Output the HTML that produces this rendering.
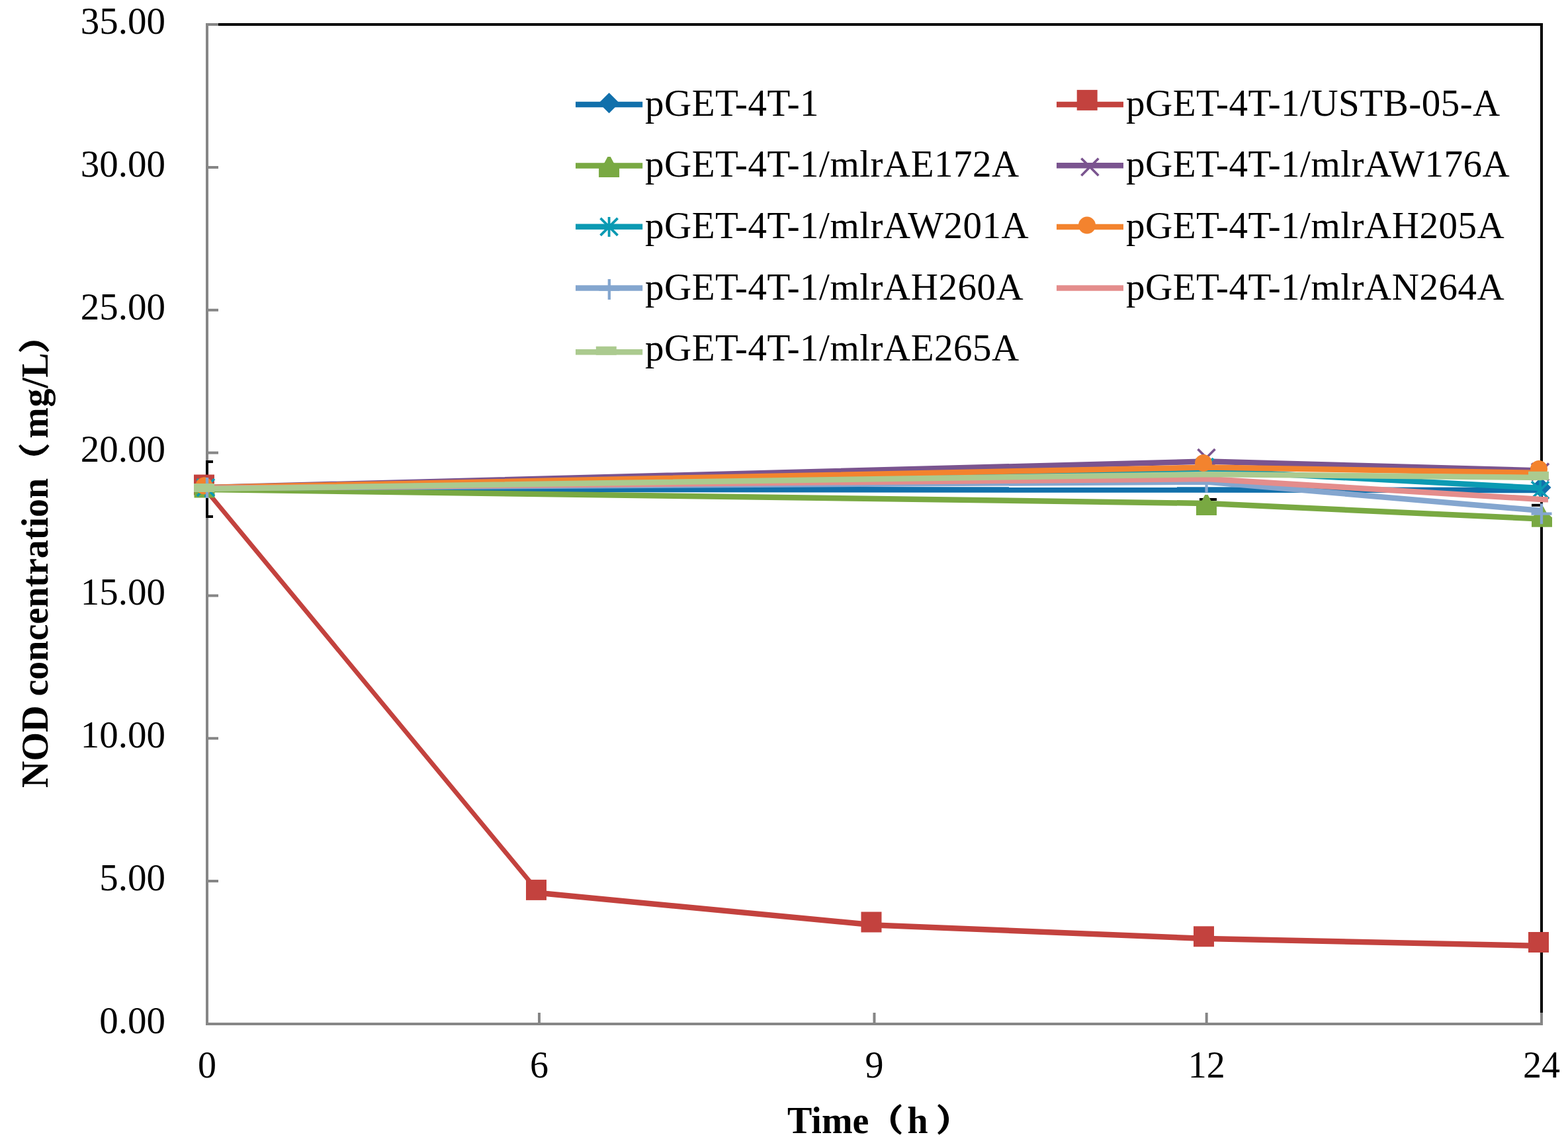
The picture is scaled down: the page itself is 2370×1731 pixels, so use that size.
<!DOCTYPE html><html><head><meta charset="utf-8"><title>NOD concentration</title>
<style>html,body{margin:0;padding:0;background:#fff;}body{width:2370px;height:1731px;overflow:hidden;}svg{display:block;}.t{font-family:"Liberation Serif","Noto Serif CJK SC","Noto Sans CJK SC",serif;fill:#000;stroke:#000;stroke-width:0px;}.l{letter-spacing:0.5px;}.b{font-weight:bold;stroke-width:0px;}</style></head><body>
<svg width="2370" height="1731" viewBox="0 0 2370 1731">
<rect width="2370" height="1731" fill="#fff"/>
<path d="M311,37 H2330 V1548" stroke="#000" stroke-width="4" fill="none"/>
<path d="M313,1548.0 H330 M313,1332.1 H330 M313,1116.3 H330 M313,900.4 H330 M313,684.6 H330 M313,468.7 H330 M313,252.9 H330 M313,37.0 H330 M815,1548 V1531 M1321.5,1548 V1531 M1823.7,1548 V1531 M2330,1548 V1531" stroke="#868686" stroke-width="4" fill="none"/>
<path d="M313,35 V1548 H2332" stroke="#868686" stroke-width="4" fill="none"/>
<path d="M313,698 V781 M311,698 H322 M311,781 H322" stroke="#000" stroke-width="4" fill="none"/>
<path d="M2315,763.8 H2330" stroke="#000" stroke-width="4" fill="none"/>
<path d="M1813,755 H1839 M1826,755 V771" stroke="#000" stroke-width="4" fill="none"/>
<polyline points="313,739.5 2330,741" stroke="#1170ab" stroke-width="8.5" fill="none" stroke-linejoin="round"/>
<path d="M309,720.5 L324.5,736 L309,751.5 L293.5,736 Z" fill="#1170ab"/>
<path d="M2329,721.5 L2344.5,737 L2329,752.5 L2313.5,737 Z" fill="#1170ab"/>
<path d="M313,743 L815,1350" stroke="#c3423e" stroke-width="6.8" fill="none" stroke-linecap="round"/>
<polyline points="815,1350 1321.5,1398.5 1823.7,1419 2330,1430" stroke="#c3423e" stroke-width="8.5" fill="none" stroke-linejoin="round"/>
<rect x="293.0" y="717.5" width="31.0" height="31.0" fill="#c3423e"/>
<rect x="795.0" y="1329.9" width="31.0" height="31.0" fill="#c3423e"/>
<rect x="1301.5" y="1378.5" width="31.0" height="31.0" fill="#c3423e"/>
<rect x="1804.0" y="1400.3" width="31.0" height="31.0" fill="#c3423e"/>
<rect x="2310.0" y="1409.0" width="31.0" height="31.0" fill="#c3423e"/>
<polyline points="313,740 1823.7,761 2330,784.5" stroke="#79a942" stroke-width="8.5" fill="none" stroke-linejoin="round"/>
<path d="M306.8,721.5 L311.2,721.5 L316,730.5 L324.5,738.0 L324.5,752.5 L293.5,752.5 L293.5,738.0 L302,730.5 Z" fill="#79a942"/>
<path d="M1821.3,748.0 L1825.7,748.0 L1830.5,757.0 L1839.0,764.5 L1839.0,779.0 L1808.0,779.0 L1808.0,764.5 L1816.5,757.0 Z" fill="#79a942"/>
<path d="M2328.3,765.8 L2332.7,765.8 L2337.5,774.8 L2346.0,782.3 L2346.0,796.8 L2315.0,796.8 L2315.0,782.3 L2323.5,774.8 Z" fill="#79a942"/>
<polyline points="313,737 1823.7,697.6 2330,711.5" stroke="#7a548f" stroke-width="8.5" fill="none" stroke-linejoin="round"/>
<path d="M1810.5,679 L1836.5,705 M1836.5,679 L1810.5,705" stroke="#7a548f" stroke-width="3.6" fill="none"/>
<path d="M2315,700.5 L2341,726.5 M2341,700.5 L2315,726.5" stroke="#7a548f" stroke-width="3.6" fill="none"/>
<polyline points="313,738 1823.7,711 2330,738" stroke="#0b9ab3" stroke-width="8.5" fill="none" stroke-linejoin="round"/>
<path d="M298,724 L324,750 M324,724 L298,750 M311,722 L311,752" stroke="#0b9ab3" stroke-width="3.8" fill="none"/>
<path d="M1808,693 L1834,719 M1834,693 L1808,719 M1821,691 L1821,721" stroke="#0b9ab3" stroke-width="3.8" fill="none"/>
<path d="M2315,728 L2341,754 M2341,728 L2315,754 M2328,726 L2328,756" stroke="#0b9ab3" stroke-width="3.8" fill="none"/>
<polyline points="313,737 1823.7,706.5 2330,715" stroke="#f3832e" stroke-width="8.5" fill="none" stroke-linejoin="round"/>
<circle cx="308.5" cy="734.5" r="13" fill="#f3832e"/>
<circle cx="1819" cy="700" r="13" fill="#f3832e"/>
<circle cx="2326" cy="709" r="13" fill="#f3832e"/>
<polyline points="313,738 1823.7,728.5 2330,772" stroke="#84a6cf" stroke-width="8.5" fill="none" stroke-linejoin="round"/>
<path d="M313,721.9 L313,752.9 M297.5,737.4 L328.5,737.4" stroke="#84a6cf" stroke-width="4.3" fill="none"/>
<path d="M1823.6,713.5 L1823.6,744.5 M1808.1,729 L1839.1,729" stroke="#84a6cf" stroke-width="4.3" fill="none"/>
<path d="M2330,761.2 L2330,792.2 M2314.5,776.7 L2345.5,776.7" stroke="#84a6cf" stroke-width="4.3" fill="none"/>
<polyline points="313,738 1823.7,724 2330,755 2340,755.3" stroke="#e48d8c" stroke-width="8.5" fill="none" stroke-linejoin="round"/>
<polyline points="313,739 1823.7,717 2330,722" stroke="#abca8f" stroke-width="8.5" fill="none" stroke-linejoin="round"/>
<rect x="293.0" y="731.0" width="31" height="13" fill="#abca8f"/>
<rect x="2310.0" y="712.8" width="31" height="13" fill="#abca8f"/>
<text class="t" x="250" y="1561.8" font-size="57" text-anchor="end">0.00</text>
<text class="t" x="250" y="1345.9" font-size="57" text-anchor="end">5.00</text>
<text class="t" x="250" y="1130.1" font-size="57" text-anchor="end">10.00</text>
<text class="t" x="250" y="914.2" font-size="57" text-anchor="end">15.00</text>
<text class="t" x="250" y="698.4" font-size="57" text-anchor="end">20.00</text>
<text class="t" x="250" y="482.5" font-size="57" text-anchor="end">25.00</text>
<text class="t" x="250" y="266.7" font-size="57" text-anchor="end">30.00</text>
<text class="t" x="250" y="50.8" font-size="57" text-anchor="end">35.00</text>
<text class="t" x="313" y="1628.5" font-size="56" text-anchor="middle">0</text>
<text class="t" x="815" y="1628.5" font-size="56" text-anchor="middle">6</text>
<text class="t" x="1321.5" y="1628.5" font-size="56" text-anchor="middle">9</text>
<text class="t" x="1823.7" y="1628.5" font-size="56" text-anchor="middle">12</text>
<text class="t" x="2330" y="1628.5" font-size="56" text-anchor="middle">24</text>
<text class="t b" x="1190" y="1713" font-size="56">Time<tspan font-size="45" dx="5" dy="-3" style="stroke-width:3px">（</tspan><tspan dx="8" dy="3">h</tspan><tspan font-size="45" dx="14" dy="-3" style="stroke-width:3px">）</tspan></text>
<text class="t b" transform="translate(72,1191) rotate(-90)" x="0" y="0" font-size="56">NOD concentration<tspan font-size="45" dx="6.5" dy="-3" style="stroke-width:3px">（</tspan><tspan dx="8.7" dy="3" letter-spacing="0.6">mg/L</tspan><tspan font-size="45" dy="-3" style="stroke-width:3px">）</tspan></text>
<path d="M870,157.9 H971.2" stroke="#1170ab" stroke-width="8.5" fill="none"/>
<path d="M920.6,140.3 L936.1,155.8 L920.6,171.3 L905.1,155.8 Z" fill="#1170ab"/>
<text class="t l" x="975" y="174.7" font-size="57">pGET-4T-1</text>
<path d="M1597,158.0 H1698" stroke="#c3423e" stroke-width="8.5" fill="none"/>
<rect x="1627.7" y="135.9" width="31.0" height="31.0" fill="#c3423e"/>
<text class="t l" x="1702" y="174.7" font-size="57">pGET-4T-1/USTB-05-A</text>
<path d="M870,250.4 H971.2" stroke="#79a942" stroke-width="8.5" fill="none"/>
<path d="M918.4,236.9 L922.8000000000001,236.9 L927.6,245.9 L936.1,253.4 L936.1,267.9 L905.1,267.9 L905.1,253.4 L913.6,245.9 Z" fill="#79a942"/>
<text class="t l" x="975" y="267.3" font-size="57">pGET-4T-1/mlrAE172A</text>
<path d="M1597,250.2 H1698" stroke="#7a548f" stroke-width="8.5" fill="none"/>
<path d="M1634.4,239.4 L1660.4,265.4 M1660.4,239.4 L1634.4,265.4" stroke="#7a548f" stroke-width="3.6" fill="none"/>
<text class="t l" x="1702" y="267.3" font-size="57">pGET-4T-1/mlrAW176A</text>
<path d="M870,342.8 H971.2" stroke="#0b9ab3" stroke-width="8.5" fill="none"/>
<path d="M907.6,329.9 L933.6,355.9 M933.6,329.9 L907.6,355.9 M920.6,327.9 L920.6,357.9" stroke="#0b9ab3" stroke-width="3.8" fill="none"/>
<text class="t l" x="975" y="359.9" font-size="57">pGET-4T-1/mlrAW201A</text>
<path d="M1597,343.0 H1698" stroke="#f3832e" stroke-width="8.5" fill="none"/>
<circle cx="1643" cy="340.6" r="13" fill="#f3832e"/>
<text class="t l" x="1702" y="359.9" font-size="57">pGET-4T-1/mlrAH205A</text>
<path d="M870,435.4 H971.2" stroke="#84a6cf" stroke-width="8.5" fill="none"/>
<path d="M920.85,422.0 L920.85,453.0 M905.35,437.5 L936.35,437.5" stroke="#84a6cf" stroke-width="4.3" fill="none"/>
<text class="t l" x="975" y="452.5" font-size="57">pGET-4T-1/mlrAH260A</text>
<path d="M1597,435.4 H1698" stroke="#e48d8c" stroke-width="8.5" fill="none"/>
<text class="t l" x="1702" y="452.5" font-size="57">pGET-4T-1/mlrAN264A</text>
<path d="M870,532.3 H971.2" stroke="#abca8f" stroke-width="8.5" fill="none"/>
<rect x="900.8" y="523.7" width="31" height="13" fill="#abca8f"/>
<text class="t l" x="975" y="545.1" font-size="57">pGET-4T-1/mlrAE265A</text>
</svg></body></html>
